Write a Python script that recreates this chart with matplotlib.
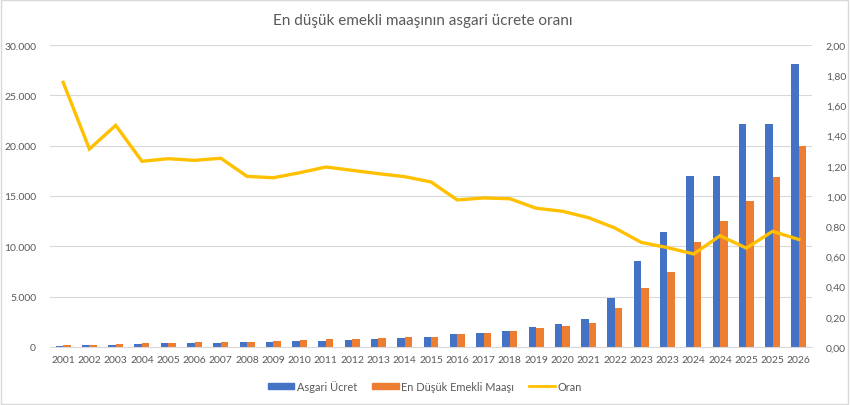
import numpy as np
import matplotlib
matplotlib.use("Agg")
import matplotlib.pyplot as plt
from matplotlib.patches import Rectangle, Patch
from matplotlib.lines import Line2D
from matplotlib.ticker import FuncFormatter

plt.rcParams['font.family'] = ['Lato', 'DejaVu Sans']

years = ["2001", "2002", "2003", "2004", "2005", "2006", "2007", "2008", "2009", "2010",
         "2011", "2012", "2013", "2014", "2015", "2016", "2017", "2018", "2019", "2020",
         "2021", "2022", "2023", "2023", "2024", "2024", "2025", "2025", "2026"]
asgari = [122, 184, 226, 303, 350, 380, 419, 481, 527, 577,
          630, 701, 773, 846, 949, 1300, 1404, 1603, 2021, 2325,
          2826, 4867, 8507, 11402, 17002, 17002, 22104, 22104, 28076]
emekli = [214, 241, 332, 373, 436, 470, 524, 544, 591, 666,
          751, 820, 887, 954, 1037, 1266, 1386, 1574, 1857, 2092,
          2419, 3835, 5861, 7500, 10460, 12500, 14469, 16881, 20000]
oran = [1.753, 1.311, 1.468, 1.230, 1.247, 1.236, 1.250, 1.130, 1.121, 1.154,
        1.192, 1.170, 1.148, 1.128, 1.093, 0.974, 0.987, 0.982, 0.919, 0.899,
        0.856, 0.788, 0.693, 0.658, 0.616, 0.737, 0.655, 0.766, 0.712]

blue = "#4472C4"
orange = "#ED7D31"
yellow = "#FFC000"
grid = "#D9D9D9"
txt = "#595959"

fig = plt.figure(figsize=(8.5, 4.06), dpi=100)
fig.patches.append(Rectangle((0.001, 0.002), 0.997, 0.995, transform=fig.transFigure,
                             fill=False, edgecolor=grid, linewidth=1))

ax = fig.add_axes([50 / 850, 58 / 406, 762 / 850, 302 / 406])
x = np.arange(len(years))
w = 0.285
ax.bar(x - w / 2, asgari, w, color=blue, zorder=2)
ax.bar(x + w / 2, emekli, w, color=orange, zorder=2)
ax.set_xlim(-0.5, len(years) - 0.5)
ax.set_ylim(0, 30000)
ax.set_yticks(range(0, 30001, 5000))
ax.yaxis.set_major_formatter(FuncFormatter(lambda v, p: f"{int(v):,}".replace(",", ".")))
ax.set_xticks(x)
ax.set_xticklabels(years)
ax.grid(axis='y', color=grid, linewidth=0.8, zorder=0)
for s in ax.spines.values():
    s.set_visible(False)
ax.spines['bottom'].set_visible(True)
ax.spines['bottom'].set_color(grid)
ax.tick_params(length=0, colors=txt, labelsize=7.5)
ax.tick_params(axis='x', pad=6)
ax.tick_params(axis='y', pad=10)

ax2 = ax.twinx()
ax2.plot(x, oran, color=yellow, linewidth=2.4, solid_joinstyle='miter', zorder=3)
ax2.set_ylim(0, 2)
ax2.set_yticks(np.arange(0, 2.01, 0.2))
ax2.yaxis.set_major_formatter(FuncFormatter(lambda v, p: f"{v:.2f}".replace(".", ",")))
for s in ax2.spines.values():
    s.set_visible(False)
ax2.tick_params(length=0, colors=txt, labelsize=7.5, pad=10)

fig.text(0.497, 1 - 21 / 406, "En düşük emekli maaşının asgari ücrete oranı",
         ha='center', va='center', fontsize=11, color=txt)

handles = [Patch(color=blue), Patch(color=orange), Line2D([0], [0], color=yellow, linewidth=2)]
fig.legend(handles, ["Asgari Ücret", "En Düşük Emekli Maaşı", "Oran"], loc='center',
           bbox_to_anchor=(0.5, 19 / 406), ncol=3, frameon=False, fontsize=7.9,
           handlelength=2.4, handleheight=0.5, handletextpad=0.2, columnspacing=1.4,
           labelcolor=txt)

fig.savefig("out.png", dpi=100)
